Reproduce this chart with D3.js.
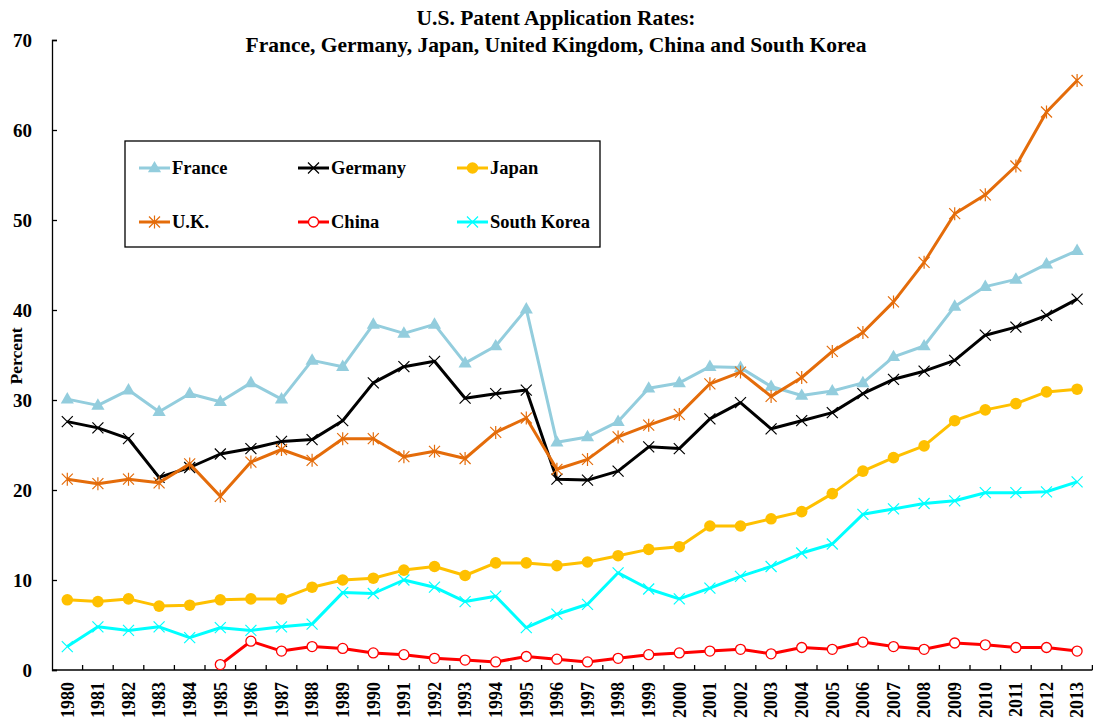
<!DOCTYPE html>
<html>
<head>
<meta charset="utf-8">
<script src="https://cdn.jsdelivr.net/npm/d3@7"></script>
<style>
  html, body { margin: 0; padding: 0; background: #fff; }
  svg { display: block; }
  text { font-family: "Liberation Serif", "Times New Roman", serif; font-weight: bold; fill: #000; }
</style>
</head>
<body>
<svg id="chart" width="1093" height="720"></svg>
<script>
const years = d3.range(1980, 2014).map(String);
const yTicks = [0, 10, 20, 30, 40, 50, 60, 70];
const titleLines = ["U.S. Patent Application Rates:", "France, Germany, Japan, United Kingdom, China and South Korea"];
const yLabel = "Percent";

const france = [30.1, 29.4, 31.1, 28.7, 30.7, 29.8, 31.9, 30.1, 34.4, 33.7, 38.4, 37.4, 38.4, 34.1, 36.0, 40.1, 25.3, 25.9, 27.6, 31.3, 31.9, 33.7, 33.6, 31.5, 30.5, 31.0, 31.9, 34.8, 36.0, 40.4, 42.6, 43.4, 45.1, 46.6];
const germany = [27.6, 26.9, 25.7, 21.4, 22.5, 24.0, 24.6, 25.4, 25.6, 27.7, 31.9, 33.7, 34.3, 30.2, 30.7, 31.1, 21.2, 21.1, 22.1, 24.8, 24.6, 27.9, 29.7, 26.8, 27.7, 28.6, 30.7, 32.3, 33.2, 34.4, 37.2, 38.1, 39.4, 41.2];
const japan = [7.8, 7.6, 7.9, 7.1, 7.2, 7.8, 7.9, 7.9, 9.2, 10.0, 10.2, 11.1, 11.5, 10.5, 11.9, 11.9, 11.6, 12.0, 12.7, 13.4, 13.7, 16.0, 16.0, 16.8, 17.6, 19.6, 22.1, 23.6, 24.9, 27.7, 28.9, 29.6, 30.9, 31.2];
const uk = [21.2, 20.7, 21.2, 20.8, 22.9, 19.3, 23.1, 24.5, 23.3, 25.7, 25.7, 23.7, 24.3, 23.5, 26.4, 28.0, 22.3, 23.4, 25.9, 27.2, 28.4, 31.8, 33.1, 30.4, 32.5, 35.4, 37.5, 40.9, 45.3, 50.7, 52.8, 56.0, 62.0, 65.5];
const china = [null, null, null, null, null, 0.6, 3.2, 2.1, 2.6, 2.4, 1.9, 1.7, 1.3, 1.1, 0.9, 1.5, 1.2, 0.9, 1.3, 1.7, 1.9, 2.1, 2.3, 1.8, 2.5, 2.3, 3.1, 2.6, 2.3, 3.0, 2.8, 2.5, 2.5, 2.1];
const korea = [2.6, 4.8, 4.4, 4.8, 3.6, 4.7, 4.4, 4.8, 5.1, 8.6, 8.5, 10.0, 9.2, 7.6, 8.2, 4.7, 6.2, 7.3, 10.8, 9.0, 7.9, 9.1, 10.4, 11.5, 13.0, 14.0, 17.3, 17.9, 18.5, 18.8, 19.7, 19.7, 19.8, 20.9];

const seriesNames = ["France", "Germany", "Japan", "U.K.", "China", "South Korea"];
const seriesValues = [france, germany, japan, uk, china, korea];
const seriesColors = ["#93CDDD", "#000000", "#FFC000", "#E46C0A", "#FF0000", "#00FFFF"];
const seriesMarkers = ["triangle", "x", "dot", "star", "ring", "x"];

const svg = d3.select("#chart");
const plotLeft = 52, plotRight = 1092.4, plotTop = 40, plotBottom = 670;

const x = d3.scaleBand().domain(years).range([plotLeft, plotRight]).padding(0);
const y = d3.scaleLinear().domain([0, 70]).range([plotBottom, plotTop]);

// Title
const title = svg.append("text").attr("x", 556).attr("text-anchor", "middle").style("font-size", "21.5px");
titleLines.forEach((t, i) => title.append("tspan").attr("x", 556).attr("y", 25 + i * 27).text(t));

// Y axis
const yAxis = d3.axisLeft(y).tickValues(yTicks).tickSize(-5).tickPadding(20).tickFormat(d3.format("d"));
const gy = svg.append("g").attr("transform", `translate(${plotLeft},0)`).call(yAxis);
gy.select(".domain").attr("stroke", "#000").attr("stroke-width", 1.3);
gy.selectAll(".tick line").attr("stroke", "#000").attr("stroke-width", 1.3);
gy.selectAll(".tick text").style("font-size", "19px").style("font-family", "Liberation Serif, serif").style("font-weight", "bold").attr("dy", "0.34em");

// X axis: ticks at band boundaries
svg.append("line").attr("x1", plotLeft).attr("x2", plotRight).attr("y1", plotBottom).attr("y2", plotBottom).attr("stroke", "#000").attr("stroke-width", 1.3);
svg.append("g").selectAll("line").data(years.slice(1)).join("line")
  .attr("x1", d => x(d)).attr("x2", d => x(d))
  .attr("y1", plotBottom).attr("y2", plotBottom - 5)
  .attr("stroke", "#000").attr("stroke-width", 1.3);
svg.append("line").attr("x1", plotRight).attr("x2", plotRight).attr("y1", plotBottom).attr("y2", plotBottom - 5).attr("stroke", "#000").attr("stroke-width", 1.3);
svg.append("g").selectAll("text").data(years).join("text")
  .attr("transform", d => `translate(${x(d) + x.bandwidth() / 2 + 6.3},${plotBottom + 12}) rotate(-90)`)
  .attr("text-anchor", "end")
  .style("font-size", "18px")
  .text(d => d);

// Y label
svg.append("text").attr("transform", `translate(22,356) rotate(-90)`).attr("text-anchor", "middle").style("font-size", "17.5px").text(yLabel);

// Marker drawing
function drawMarker(g, type, color) {
  if (type === "triangle") {
    g.append("path").attr("d", d3.symbol(d3.symbolTriangle, 75)()).attr("fill", color).attr("transform", "translate(0,0.5)");
  } else if (type === "x") {
    g.append("path").attr("d", "M-5.5,-5.5L5.5,5.5M-5.5,5.5L5.5,-5.5").attr("stroke", color).attr("stroke-width", 1.2).attr("fill", "none");
  } else if (type === "star") {
    g.append("path").attr("d", "M-5.5,-5.5L5.5,5.5M-5.5,5.5L5.5,-5.5M0,-6.5L0,6.5").attr("stroke", color).attr("stroke-width", 1.2).attr("fill", "none");
  } else if (type === "dot") {
    g.append("circle").attr("r", 5.8).attr("fill", color);
  } else if (type === "ring") {
    g.append("circle").attr("r", 5).attr("fill", "#fff").attr("stroke", color).attr("stroke-width", 1.3);
  }
}

const line = d3.line()
  .defined(d => d.v != null)
  .x(d => x(d.year) + x.bandwidth() / 2)
  .y(d => y(d.v));

seriesValues.forEach((vals, i) => {
  const data = years.map((yr, k) => ({ year: yr, v: vals[k] }));
  const g = svg.append("g");
  g.append("path").datum(data).attr("d", line).attr("fill", "none")
    .attr("stroke", seriesColors[i]).attr("stroke-width", 3).attr("stroke-linejoin", "round");
  g.selectAll("g.m").data(data.filter(d => d.v != null)).join("g")
    .attr("class", "m")
    .attr("transform", d => `translate(${x(d.year) + x.bandwidth() / 2},${y(d.v)})`)
    .each(function () { drawMarker(d3.select(this), seriesMarkers[i], seriesColors[i]); });
});

// Legend
const legend = svg.append("g");
legend.append("rect").attr("x", 125).attr("y", 141).attr("width", 475).attr("height", 106)
  .attr("fill", "#fff").attr("stroke", "#000").attr("stroke-width", 1.3);
seriesNames.forEach((name, i) => {
  const col = i % 3, row = Math.floor(i / 3);
  const lx = 139 + col * 159, ly = 168 + row * 54;
  const g = legend.append("g");
  g.append("line").attr("x1", lx).attr("x2", lx + 31).attr("y1", ly).attr("y2", ly)
    .attr("stroke", seriesColors[i]).attr("stroke-width", 3);
  const m = g.append("g").attr("transform", `translate(${lx + 15.5},${ly})`);
  drawMarker(m, seriesMarkers[i], seriesColors[i]);
  g.append("text").attr("x", lx + 33).attr("y", ly).attr("dy", "0.35em").style("font-size", "18.5px").text(name);
});
</script>
</body>
</html>
